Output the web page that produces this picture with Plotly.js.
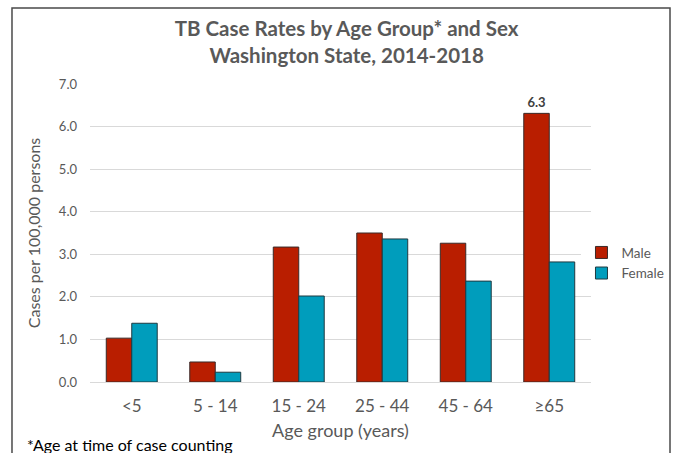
<!DOCTYPE html>
<html>
<head>
<meta charset="utf-8">
<script src="https://cdn.plot.ly/plotly-3.0.1.min.js"></script>
<style>
  html, body { margin: 0; padding: 0; background: #fff; }
  #chart { width: 673px; height: 453px; }
</style>
</head>
<body>
<div id="chart"></div>
<script>
const categories = ['<5', '5 - 14', '15 - 24', '25 - 44', '45 - 64', '≥65'];
const maleRates = [1.03, 0.47, 3.17, 3.5, 3.26, 6.31];
const femaleRates = [1.38, 0.23, 2.02, 3.36, 2.37, 2.82];
const labeledIndex = 5;

const font = 'Lato, "Open Sans", sans-serif';
const grey = '#595959';

const male = {
  type: 'bar', name: 'Male', x: categories, y: maleRates,
  marker: { color: '#B91E00', line: { color: '#3a2a28', width: 1 } },
  text: maleRates.map((v, i) => i === labeledIndex ? v.toFixed(1) : ''),
  textposition: 'outside', cliponaxis: false,
  textfont: { family: font, size: 13, color: '#404040', weight: 'bold' },
  hoverinfo: 'x+y+name'
};
const female = {
  type: 'bar', name: 'Female', x: categories, y: femaleRates,
  marker: { color: '#009DBC', line: { color: '#1f3a40', width: 1 } },
  hoverinfo: 'x+y+name'
};

const layout = {
  width: 673, height: 453,
  margin: { l: 90, r: 82, t: 84, b: 71, autoexpand: false },
  paper_bgcolor: '#fff', plot_bgcolor: '#fff',
  font: { family: font, color: grey },
  title: {
    text: '<b>TB Case Rates by Age Group* and Sex<br>Washington State, 2014-2018</b>',
    font: { family: font, size: 20.5, color: grey },
    x: 0.515, xanchor: 'center', xref: 'container',
    y: 0.92, yanchor: 'middle', yref: 'container'
  },
  barmode: 'group', bargap: 0.39, bargroupgap: 0,
  xaxis: {
    type: 'category',
    tickfont: { family: font, size: 17, color: grey },
    showline: false, ticks: '',
    ticklabelstandoff: 12,
    title: { text: 'Age group (years)', font: { family: font, size: 18, color: grey }, standoff: 9 }
  },
  yaxis: {
    range: [0, 7], dtick: 1, tickformat: '.1f',
    tickfont: { family: font, size: 13, color: grey },
    gridcolor: '#D9D9D9', zerolinecolor: '#D9D9D9', showline: false, ticks: '',
    ticklabelstandoff: 12,
    title: { text: 'Cases per 100,000 persons', font: { family: font, size: 16, color: grey }, standoff: 14 }
  },
  legend: {
    xref: 'container', yref: 'container',
    x: 0.864, xanchor: 'left', y: 0.419, yanchor: 'middle',
    font: { family: font, size: 13.5, color: grey },
    itemwidth: 30
  },
  showlegend: true,
  shapes: [{
    type: 'rect', xref: 'paper', yref: 'paper',
    x0: -0.1557, x1: 1.1577, y0: -0.27, y1: 1.255,
    line: { color: '#4a4a4a', width: 1.5 }, fillcolor: 'rgba(0,0,0,0)', layer: 'above'
  }],
  annotations: [{
    text: '*Age at time of case counting', xref: 'paper', yref: 'paper',
    x: -0.13, y: -0.211, xanchor: 'left', yanchor: 'middle', showarrow: false,
    font: { family: font, size: 16, color: '#000' }
  }]
};

Plotly.newPlot('chart', [male, female], layout, { displayModeBar: false, staticPlot: true });
</script>
</body>
</html>
